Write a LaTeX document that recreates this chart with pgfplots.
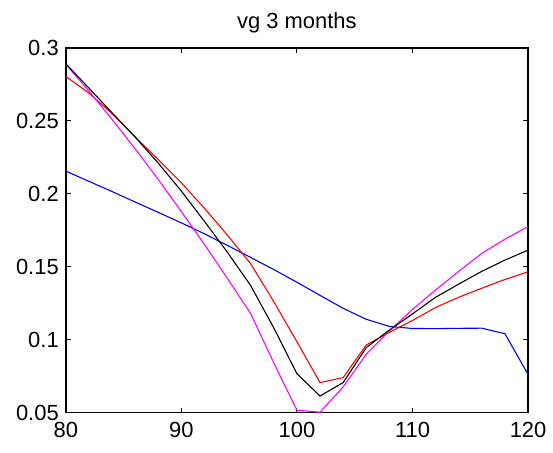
\documentclass[border=0pt]{standalone}
\usepackage{pgfplots}
\pgfplotsset{compat=1.18}
\usepackage{fontspec}
\setmainfont{Liberation Sans}
\definecolor{mblue}{rgb}{0,0,1}
\definecolor{mred}{rgb}{1,0,0}
\definecolor{mmag}{rgb}{1,0,1}
\begin{document}
\begin{tikzpicture}
\begin{axis}[
  scale only axis,
  width=232pt, height=183pt,
  xmin=80, xmax=120, ymin=0.05, ymax=0.3,
  xtick={80,90,100,110,120},
  ytick={0.05,0.1,0.15,0.2,0.25,0.3},
  tick align=inside,
  xtick pos=both, ytick pos=both,
  major tick length=2.5pt,
  tick style={black, line width=0.5pt},
  axis line style={line width=0.75pt},
  /pgf/number format/assume math mode=true,
  yticklabel style={/pgf/number format/fixed, /pgf/number format/precision=2},
  xticklabel style={/pgf/number format/fixed, yshift=-1.5pt},
  tick label style={font=\fontsize{11}{13}\selectfont},
  title={vg 3 months},
  title style={font=\fontsize{11}{13}\selectfont, yshift=-2pt},
  every axis plot/.append style={line width=0.55pt, mark=none},
]
\addplot[mblue] coordinates {(80,0.2155) (82,0.2085) (84,0.2015) (86,0.1943) (88,0.1872) (90,0.1800) (92,0.1725) (94,0.1645) (96,0.1563) (98,0.1480) (100,0.1393) (102,0.1303) (104,0.1214) (106,0.1139) (108,0.1090) (110,0.1076) (112,0.1075) (114,0.1077) (116,0.1078) (118,0.1040) (120,0.0761)};
\addplot[mred] coordinates {(80,0.2804) (82,0.2690) (84,0.2550) (86,0.2390) (88,0.2234) (90,0.2075) (92,0.1900) (94,0.1715) (96,0.1520) (98,0.1260) (100,0.0985) (102,0.0705) (104,0.0739) (106,0.0963) (108,0.1050) (110,0.1131) (112,0.1220) (114,0.1290) (116,0.1352) (118,0.1412) (120,0.1465)};
\addplot[mmag] coordinates {(80,0.2888) (82,0.2704) (84,0.2510) (86,0.2308) (88,0.2098) (90,0.1878) (92,0.1652) (94,0.1418) (96,0.1178) (98,0.0840) (100,0.0516) (102,0.0502) (104,0.0675) (106,0.0900) (108,0.1060) (110,0.1206) (112,0.1340) (114,0.1467) (116,0.1591) (118,0.1688) (120,0.1775)};
\addplot[black] coordinates {(80,0.2891) (82,0.2724) (84,0.2555) (86,0.2388) (88,0.2210) (90,0.2018) (92,0.1810) (94,0.1597) (96,0.1370) (98,0.1080) (100,0.0766) (102,0.0613) (104,0.0705) (106,0.0945) (108,0.1065) (110,0.1176) (112,0.1290) (114,0.1380) (116,0.1468) (118,0.1545) (120,0.1613)};
\end{axis}
\path ([shift={(-33pt,-20pt)}]current axis.south west) rectangle ([shift={(11.5pt,24pt)}]current axis.north east);
\end{tikzpicture}
\end{document}
